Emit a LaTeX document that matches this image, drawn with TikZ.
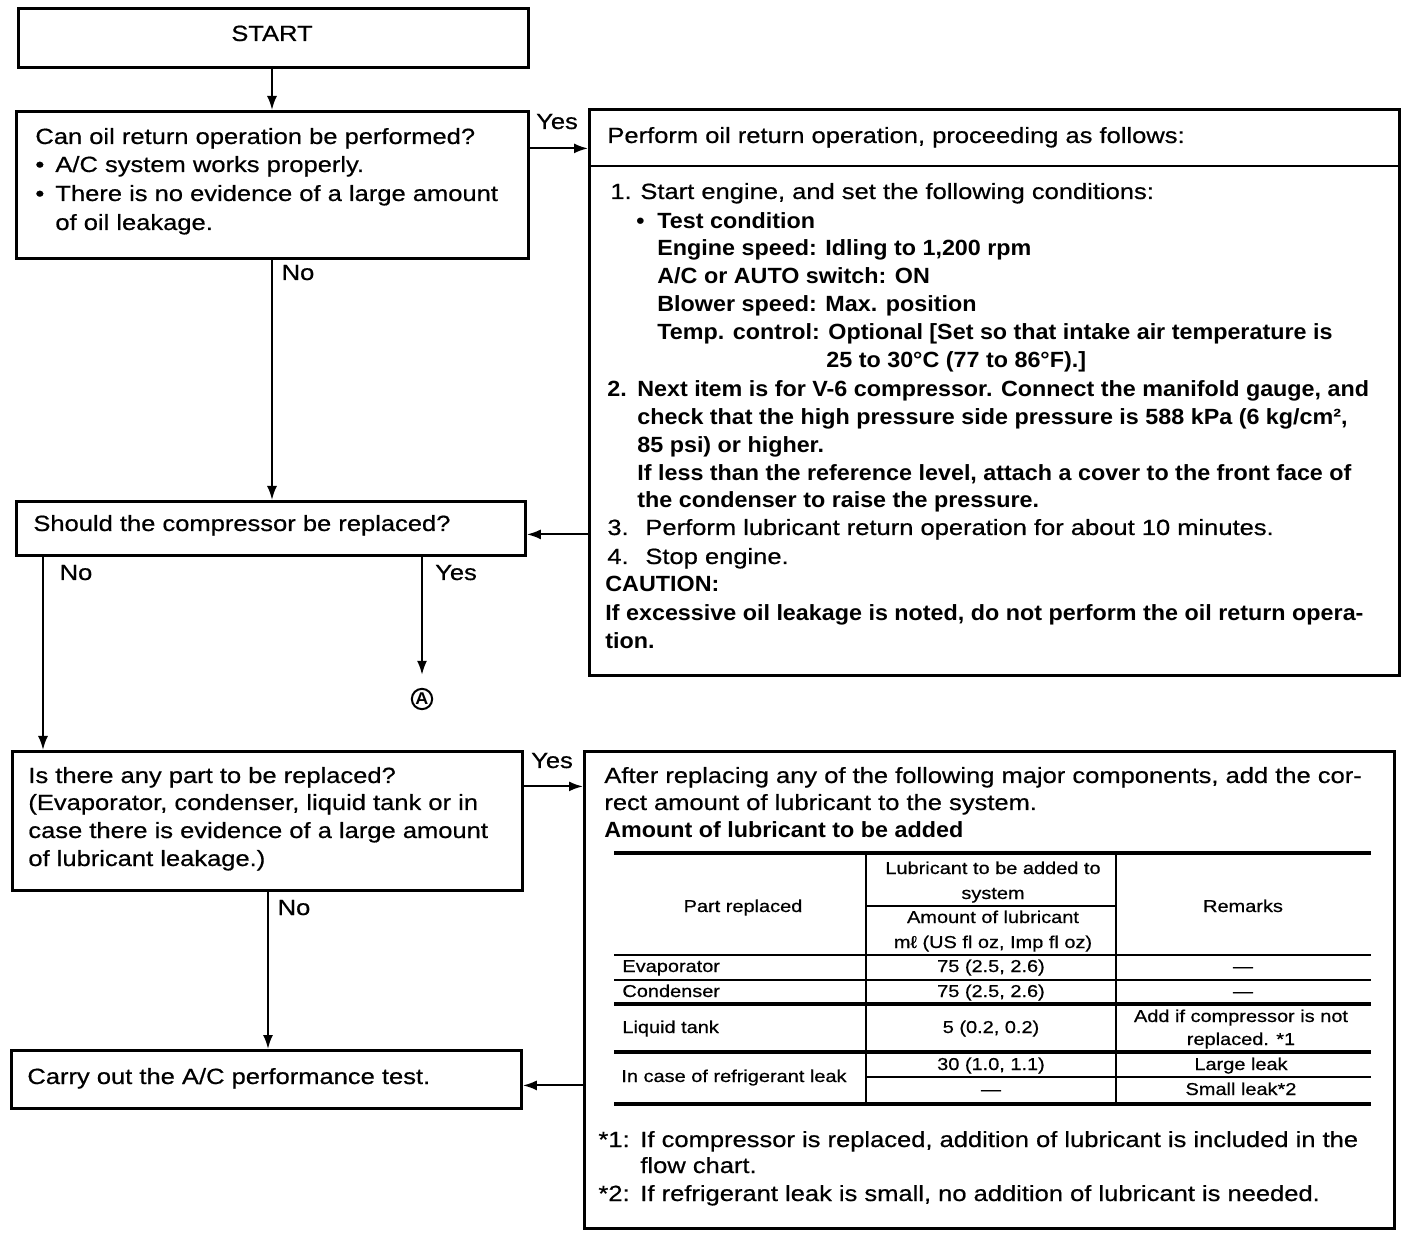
\documentclass[tikz,border=0pt]{standalone}
\usepackage{fontspec}
\setmainfont{Liberation Sans}[FakeStretch=1.16,UprightFeatures={FakeBold=0.6},BoldFeatures={FakeStretch=1.06}]
\usetikzlibrary{arrows.meta}
\newcommand{\tabsz}{\fontsize{8.6}{10}\selectfont}
\begin{document}
\begin{tikzpicture}[x=0.5pt,y=-0.5pt,font=\fontsize{11}{13}\selectfont,
  box/.style={draw,line width=1.4pt,inner sep=0,anchor=north west},
  arr/.style={line width=1pt,-{Latex[length=7pt,width=5pt]}},
  ln/.style={line width=1pt},
  thk/.style={line width=1.6pt},
  thn/.style={line width=0.9pt},
  t/.style={anchor=base west,inner sep=0},
  tb/.style={anchor=base west,inner sep=0,font=\fontsize{11}{13}\selectfont\bfseries},
  lab/.style={anchor=base,inner sep=0},
  tc/.style={anchor=base,inner sep=0,font=\tabsz},
  tl/.style={anchor=base west,inner sep=0,font=\tabsz}]
\useasboundingbox (0,0) rectangle (1408,1234);
% boxes
\node[box,minimum width=255pt,minimum height=29.5pt] (start) at (17,7) {};
\node[box,minimum width=256pt,minimum height=73.5pt] (q1) at (15,110) {};
\node[box,minimum width=405pt,minimum height=283pt] (r1) at (588,108) {};
\node[box,minimum width=254.5pt,minimum height=27pt] (q2) at (15,500) {};
\node[box,minimum width=255pt,minimum height=69.5pt] (q3) at (11,750) {};
\node[box,minimum width=405pt,minimum height=238.5pt] (r2) at (583,750) {};
\node[box,minimum width=255pt,minimum height=29pt] (q4) at (10,1049) {};
\draw[line width=1.4pt] (588,166) -- (1398,166);
% START
\node[lab] (tstart) at (272,41) {START};
% Q1
\node[t] (q1a) at (35,144) {Can oil return operation be performed?};
\node[t] (q1b) at (35,172) {\makebox[10pt][l]{•}A/C system works properly.};
\node[t] (q1c) at (35,201) {\makebox[10pt][l]{•}There is no evidence of a large amount};
\node[t] (q1d) at (55,230) {of oil leakage.};
% R1
\node[t] (r1h) at (607,143) {Perform oil return operation, proceeding as follows:};
\node[t] (r1a) at (610,199) {\makebox[15pt][l]{1.}Start engine, and set the following conditions:};
\node[tb] (r1b) at (636,229) {\makebox[10.5pt][l]{•}Test condition};
\node[tb] (r1c) at (657,256) {Engine speed: Idling to 1,200 rpm};
\node[tb] (r1d) at (657,284) {A/C or AUTO switch: ON};
\node[tb] (r1e) at (657,312) {Blower speed: Max. position};
\node[tb] (r1f) at (657,340) {Temp. control: Optional [Set so that intake air temperature is};
\node[tb] (r1g) at (826,368) {25 to 30°C (77 to 86°F).]};
\node[tb] (r1i) at (607,397) {\makebox[15pt][l]{2.}Next item is for V-6 compressor. Connect the manifold gauge, and};
\node[tb] (r1j) at (637,425) {check that the high pressure side pressure is 588 kPa (6 kg/cm²,};
\node[tb] (r1k) at (637,453) {85 psi) or higher.};
\node[tb] (r1l) at (637,481) {If less than the reference level, attach a cover to the front face of};
\node[tb] (r1m) at (637,508) {the condenser to raise the pressure.};
\node[t] (r1n) at (607,535) {\makebox[19pt][l]{3.}Perform lubricant return operation for about 10 minutes.};
\node[t] (r1o) at (607,564) {\makebox[19pt][l]{4.}Stop engine.};
\node[tb] (r1p) at (605,592) {CAUTION:};
\node[tb] (r1q) at (605,621) {If excessive oil leakage is noted, do not perform the oil return opera-};
\node[tb] (r1r) at (605,649) {tion.};
% Q2
\node[t] (q2a) at (33,531) {Should the compressor be replaced?};
% Q3
\node[t] (q3a) at (28,783) {Is there any part to be replaced?};
\node[t] (q3b) at (28,810) {(Evaporator, condenser, liquid tank or in};
\node[t] (q3c) at (28,838) {case there is evidence of a large amount};
\node[t] (q3d) at (28,866) {of lubricant leakage.)};
% Q4
\node[t] (q4a) at (27,1084) {Carry out the A/C performance test.};
% R2
\node[t] (r2a) at (604,783) {After replacing any of the following major components, add the cor-};
\node[t] (r2b) at (604,810) {rect amount of lubricant to the system.};
\node[tb] (r2c) at (604,837) {Amount of lubricant to be added};
% table rules
\draw[thk] (614,853) -- (1371,853);
\draw[thn] (866,906) -- (1116,906);
\draw[thn] (614,955) -- (1371,955);
\draw[thn] (614,980) -- (1371,980);
\draw[thk] (614,1004) -- (1371,1004);
\draw[thk] (614,1052) -- (1371,1052);
\draw[thn] (866,1077) -- (1371,1077);
\draw[thk] (614,1104) -- (1371,1104);
\draw[thn] (866,853) -- (866,1104);
\draw[thn] (1116,853) -- (1116,1104);
% table text
\node[tc] (h1) at (993,874) {Lubricant to be added to};
\node[tc] (h2) at (993,899) {system};
\node[tc] (h3) at (993,923) {Amount of lubricant};
\node[tc] (h4) at (993,948) {mℓ (US fl oz, Imp fl oz)};
\node[tc] (h5) at (743,912) {Part replaced};
\node[tc] (h6) at (1243,912) {Remarks};
\node[tl] (e1) at (622,972) {Evaporator};
\node[tc] (e2) at (991,972) {75 (2.5, 2.6)};
\node[tc] (e3) at (1243,972) {—};
\node[tl] (c1) at (622,997) {Condenser};
\node[tc] (c2) at (991,997) {75 (2.5, 2.6)};
\node[tc] (c3) at (1243,997) {—};
\node[tl] (l1) at (622,1033) {Liquid tank};
\node[tc] (l2) at (991,1033) {5 (0.2, 0.2)};
\node[tc] (l3) at (1241,1022) {Add if compressor is not};
\node[tc] (l4) at (1241,1045) {replaced. *1};
\node[tl] (k1) at (621,1082) {In case of refrigerant leak};
\node[tc] (k2) at (991,1070) {30 (1.0, 1.1)};
\node[tc] (k3) at (1241,1070) {Large leak};
\node[tc] (k4) at (991,1095) {—};
\node[tc] (k5) at (1241,1095) {Small leak*2};
% footnotes
\node[t] (f1) at (598,1147) {\makebox[21pt][l]{*1:}If compressor is replaced, addition of lubricant is included in the};
\node[t] (f2) at (640,1173) {flow chart.};
\node[t] (f3) at (598,1201) {\makebox[21pt][l]{*2:}If refrigerant leak is small, no addition of lubricant is needed.};
% connector A
\node[draw,circle,line width=1pt,inner sep=0.5pt,minimum size=10pt,font=\fontsize{8.5}{9}\selectfont\bfseries] (A) at (422,699) {A};
% labels
\node[lab] (ly1) at (557,129) {Yes};
\node[lab] (ln1) at (298,280) {No};
\node[lab] (ln2) at (76,580) {No};
\node[lab] (ly2) at (456,580) {Yes};
\node[lab] (ly3) at (552,768) {Yes};
\node[lab] (ln3) at (294,915) {No};
% connectors
\draw[arr] (start.south -| 272,0) -- (272,0 |- q1.north);
\draw[arr] ([yshift=18.25pt]q1.east) -- ([yshift=18.25pt]q1.east -| r1.west);
\coordinate (q2e) at ([yshift=-3pt]q2.east);
\draw[arr] (q2e -| r1.west) -- (q2e);
\draw[arr] (272,0 |- q1.south) -- (272,0 |- q2.north);
\draw[arr] ([xshift=14pt]q2.south west) -- ([xshift=14pt]q2.south west |- q3.north);
\draw[arr,shorten >=6.5pt] (A |- q2.south) -- (A.north);
\draw[arr] ([yshift=17.25pt]q3.east) -- ([yshift=17.25pt]q3.east -| r2.west);
\draw[arr] (268,0 |- q3.south) -- (268,0 |- q4.north);
\coordinate (q4e) at ([yshift=-3pt]q4.east);
\draw[arr] (q4e -| r2.west) -- (q4e);
\end{tikzpicture}
\end{document}
